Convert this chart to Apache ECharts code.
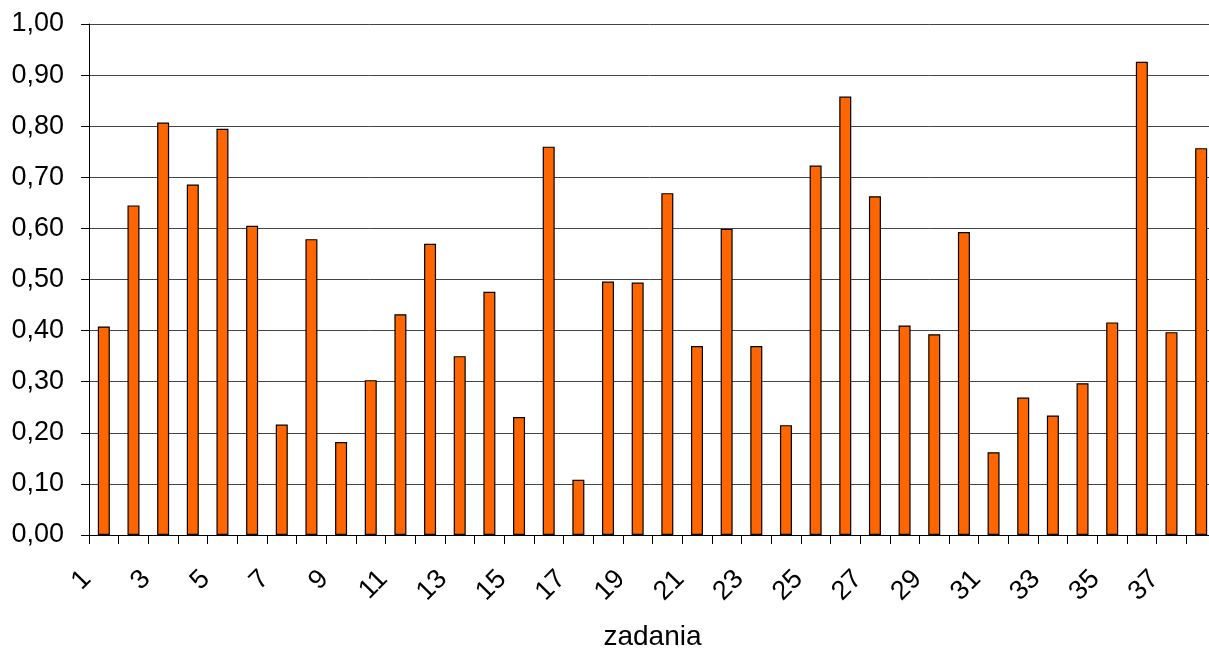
<!DOCTYPE html>
<html>
<head>
<meta charset="utf-8">
<script src="https://cdn.jsdelivr.net/npm/echarts@6/dist/echarts.min.js"></script>
<style>
html,body{margin:0;padding:0;background:#fff;}
#chart{width:1209px;height:650px;}
</style>
</head>
<body>
<div id="chart"></div>
<script>
const categories = ['1','2','3','4','5','6','7','8','9','10','11','12','13','14','15','16','17','18','19','20','21','22','23','24','25','26','27','28','29','30','31','32','33','34','35','36','37','38'];
const values = [0.408,0.645,0.807,0.686,0.795,0.605,0.216,0.579,0.182,0.303,0.432,0.570,0.350,0.476,0.231,0.760,0.108,0.496,0.494,0.669,0.370,0.599,0.370,0.215,0.723,0.858,0.663,0.410,0.393,0.593,0.162,0.269,0.234,0.297,0.416,0.926,0.397,0.757];
const yTicks = [0,0.1,0.2,0.3,0.4,0.5,0.6,0.7,0.8,0.9,1.0];
const axisTitle = 'zadania';

const chart = echarts.init(document.getElementById('chart'), null, {renderer:'canvas'});
const font = 'Liberation Sans, Arial, sans-serif';
chart.setOption({
  animation:false,
  backgroundColor:'#ffffff',
  grid:{left:89, top:24, width:1127, height:511, containLabel:false, outerBoundsMode:'none'},
  xAxis:{
    type:'category',
    data:categories,
    boundaryGap:true,
    name:axisTitle,
    nameLocation:'middle',
    nameGap:88,
    nameTextStyle:{fontSize:28, color:'#000', fontFamily:font},
    axisLine:{show:true, lineStyle:{color:'#000', width:1}},
    axisTick:{show:true, interval:0, length:9, lineStyle:{color:'#000'}},
    axisLabel:{interval:1, rotate:45, fontSize:27, color:'#000', fontFamily:font, margin:23, padding:[0,24,0,0]},
    splitLine:{show:false}
  },
  yAxis:{
    type:'value',
    min:yTicks[0],
    max:yTicks[yTicks.length-1],
    interval:0.1,
    axisLine:{show:true, lineStyle:{color:'#000', width:1}},
    axisTick:{show:true, length:8, lineStyle:{color:'#000'}},
    axisLabel:{fontSize:27, color:'#000', fontFamily:font, margin:25,
      formatter:v=>v.toFixed(2).replace('.',',')},
    splitLine:{show:true, lineStyle:{color:'#444', width:1}}
  },
  series:[{
    type:'bar',
    data:values,
    barWidth:12,
    itemStyle:{color:'#FF6600', borderColor:'#000', borderWidth:1.2}
  }]
});
</script>
</body>
</html>
